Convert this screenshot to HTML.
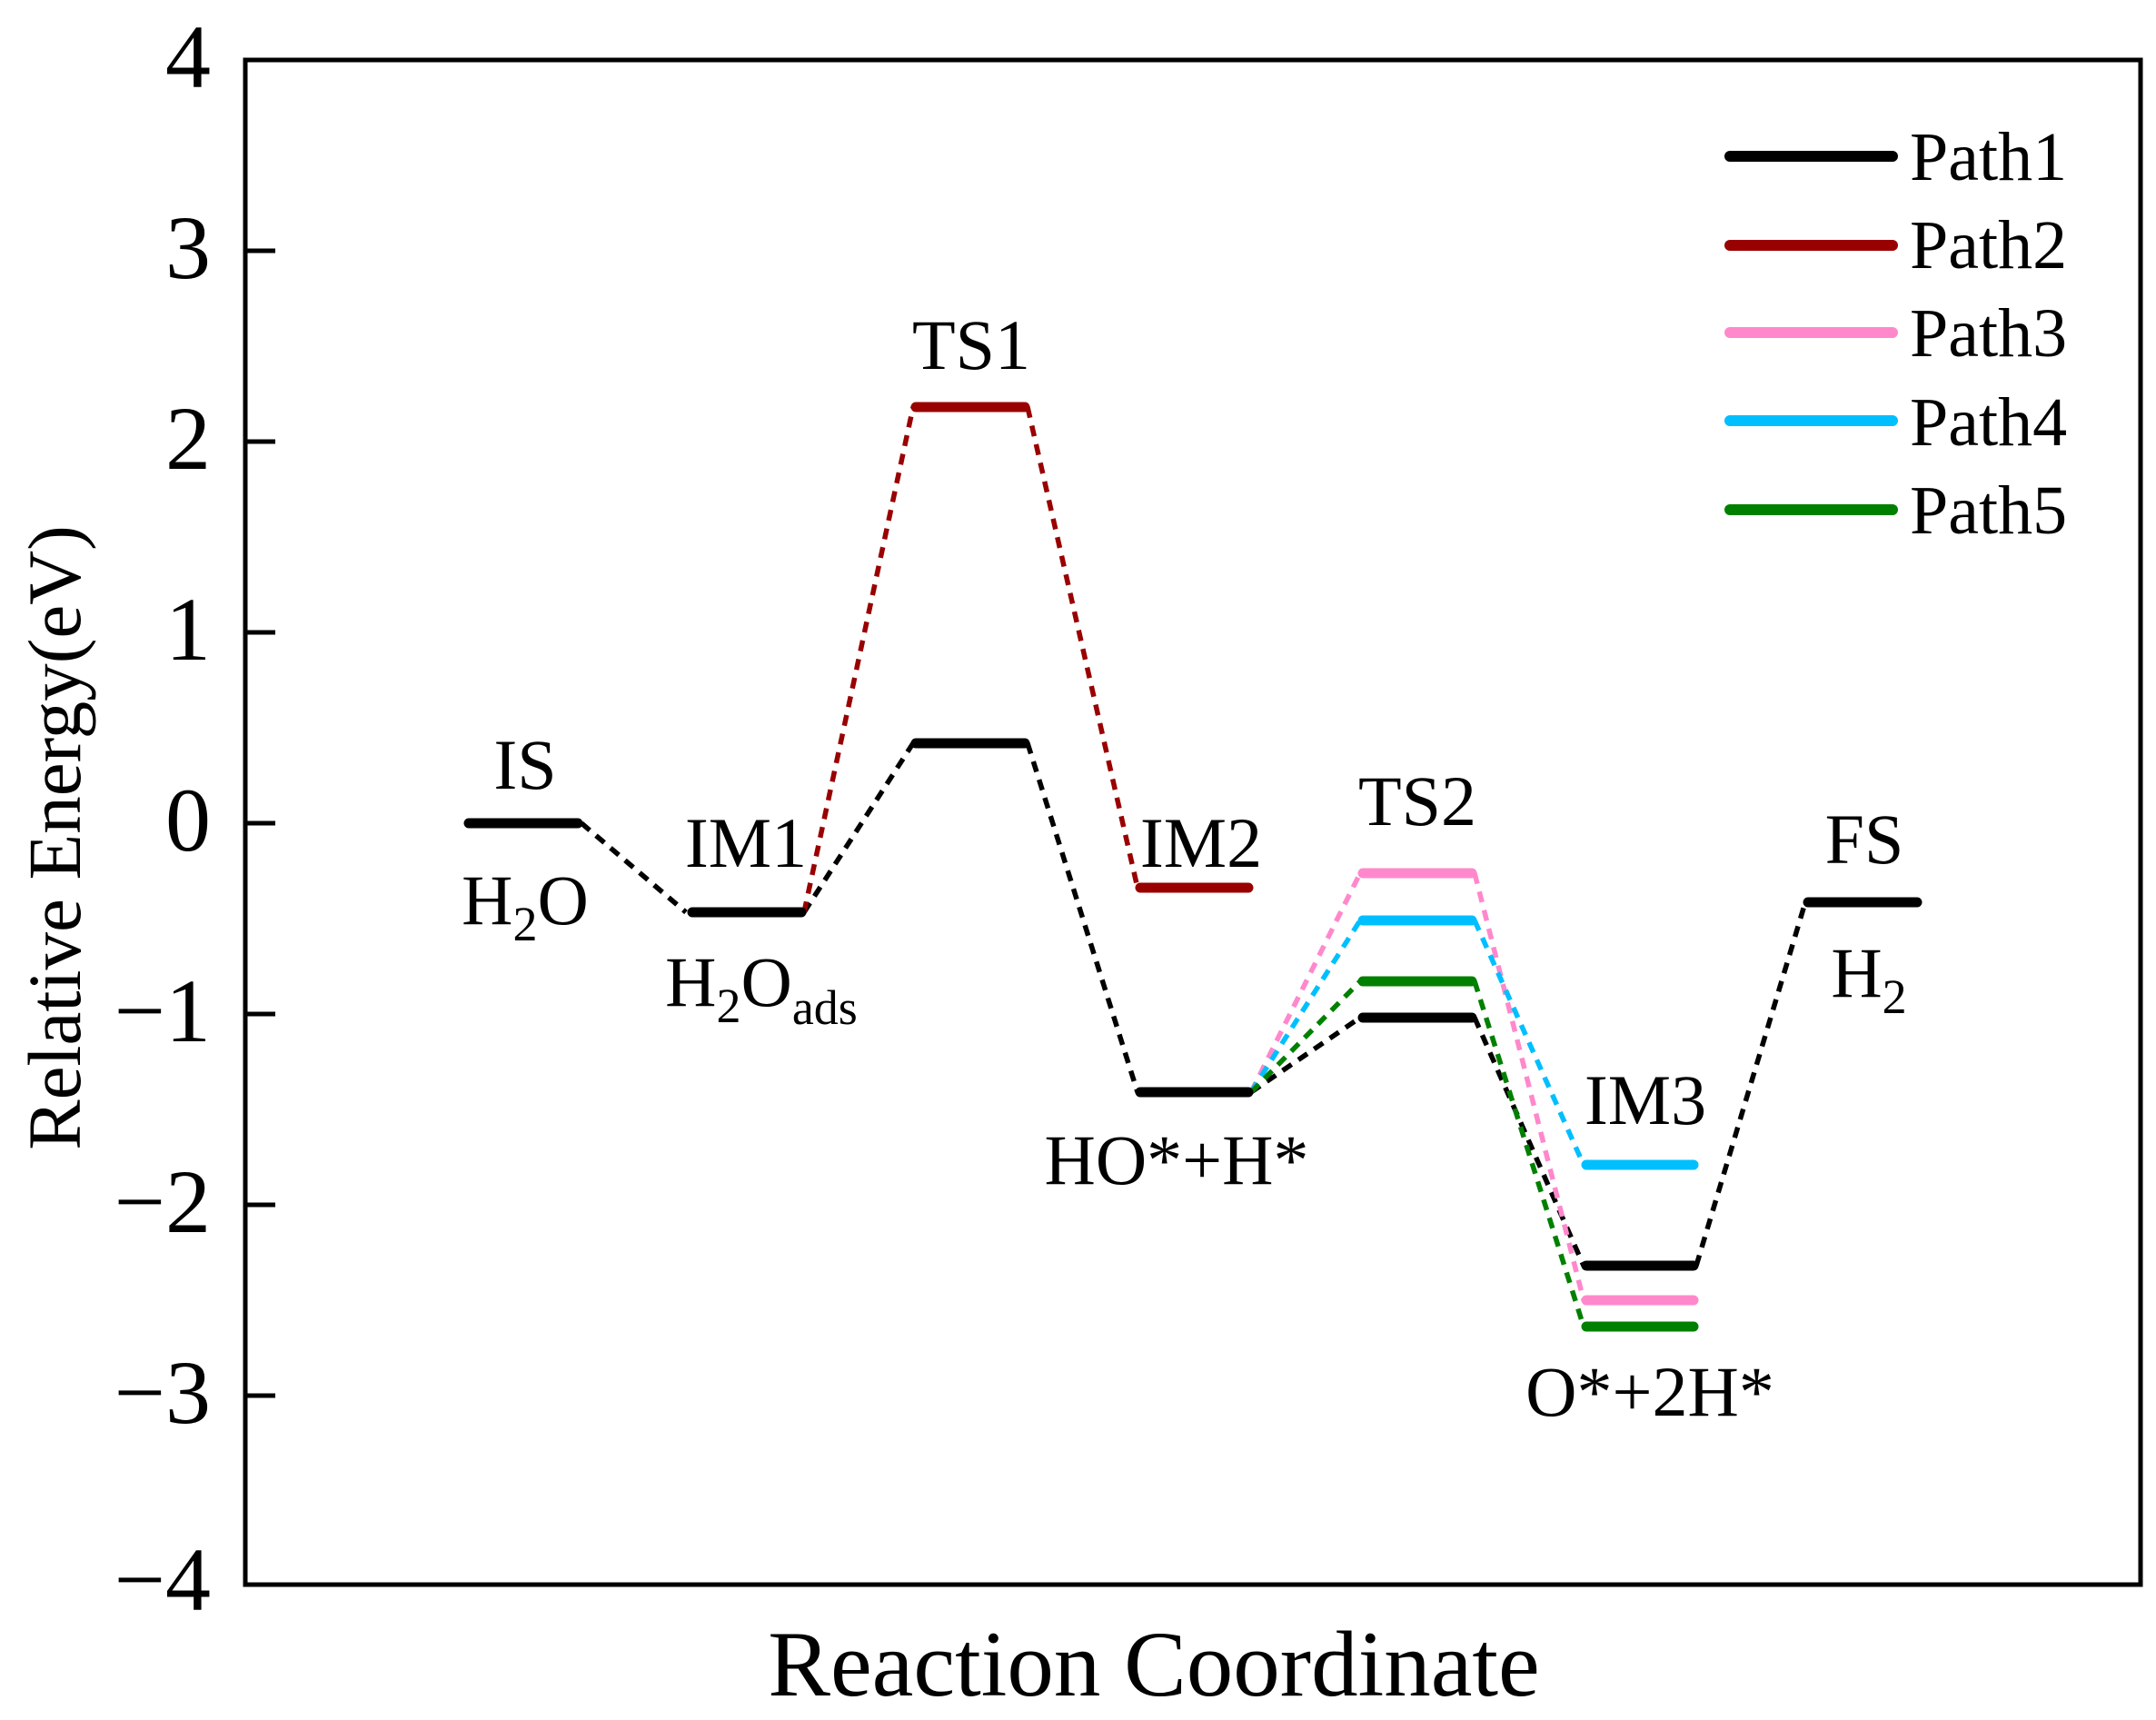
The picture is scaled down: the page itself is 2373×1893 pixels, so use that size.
<!DOCTYPE html>
<html><head><meta charset="utf-8"><style>
html,body{margin:0;padding:0;background:#fff;}
svg{display:block;}
text{font-family:"Liberation Serif","Times New Roman",serif;fill:#000;}
</style></head><body>
<svg width="2373" height="1893" viewBox="0 0 2373 1893" xmlns="http://www.w3.org/2000/svg" font-family="Liberation Serif, serif">
<rect width="2373" height="1893" fill="#fff"/>
<rect x="270" y="66" width="2086" height="1678" fill="none" stroke="#000" stroke-width="5"/>
<g stroke="#000" stroke-width="5">
<line x1="270" y1="276" x2="303" y2="276"/>
<line x1="270" y1="486" x2="303" y2="486"/>
<line x1="270" y1="696" x2="303" y2="696"/>
<line x1="270" y1="906" x2="303" y2="906"/>
<line x1="270" y1="1116" x2="303" y2="1116"/>
<line x1="270" y1="1326" x2="303" y2="1326"/>
<line x1="270" y1="1536" x2="303" y2="1536"/>
</g>
<g font-size="100" text-anchor="end">
<text x="232" y="96">4</text>
<text x="232" y="306">3</text>
<text x="232" y="516">2</text>
<text x="232" y="726">1</text>
<text x="232" y="936">0</text>
<text x="232" y="1146">−1</text>
<text x="232" y="1356">−2</text>
<text x="232" y="1566">−3</text>
<text x="232" y="1772">−4</text>
</g>
<text x="1270" y="1866" font-size="103" text-anchor="middle">Reaction Coordinate</text>
<text transform="translate(88,922) rotate(-90)" font-size="83" text-anchor="middle">Relative Energy(eV)</text>

<g fill="none" stroke-width="5.5" stroke-dasharray="12 9">
<polyline stroke="#000" points="640,906 755,1004"/>
<polyline stroke="#000" points="885,1004 1005,818"/>
<polyline stroke="#000" points="1131,818 1252,1202"/>
<polyline stroke="#000" points="1377,1202 1497,1120"/>
<polyline stroke="#000" points="1623,1120 1743,1393"/>
<polyline stroke="#000" points="1867,1393 1987,993"/>
<polyline stroke="#990000" points="885,1004 1005,448"/>
<polyline stroke="#990000" points="1131,448 1252,977"/>
<polyline stroke="#FF88CC" points="1377,1202 1497,961"/>
<polyline stroke="#FF88CC" points="1623,961 1743,1431"/>
<polyline stroke="#00BFFF" points="1377,1202 1497,1013"/>
<polyline stroke="#00BFFF" points="1623,1013 1743,1282"/>
<polyline stroke="#008000" points="1377,1202 1497,1080"/>
<polyline stroke="#008000" points="1623,1080 1743,1460"/>
</g>

<g stroke-width="11" stroke-linecap="round">
<line stroke="#000" x1="516" y1="906" x2="636" y2="906"/>
<line stroke="#000" x1="762" y1="1004" x2="882" y2="1004"/>
<line stroke="#990000" x1="1008" y1="448" x2="1128" y2="448"/>
<line stroke="#000" x1="1008" y1="818" x2="1128" y2="818"/>
<line stroke="#990000" x1="1255" y1="977" x2="1374" y2="977"/>
<line stroke="#000" x1="1255" y1="1202" x2="1374" y2="1202"/>
<line stroke="#FF88CC" x1="1500" y1="961" x2="1620" y2="961"/>
<line stroke="#00BFFF" x1="1500" y1="1013" x2="1620" y2="1013"/>
<line stroke="#008000" x1="1500" y1="1080" x2="1620" y2="1080"/>
<line stroke="#000" x1="1500" y1="1120" x2="1620" y2="1120"/>
<line stroke="#00BFFF" x1="1746" y1="1282" x2="1864" y2="1282"/>
<line stroke="#000" x1="1746" y1="1393" x2="1864" y2="1393"/>
<line stroke="#FF88CC" x1="1746" y1="1431" x2="1864" y2="1431"/>
<line stroke="#008000" x1="1746" y1="1460" x2="1864" y2="1460"/>
<line stroke="#000" x1="1990" y1="993" x2="2110" y2="993"/>
</g>

<g font-size="78" text-anchor="middle">
<text x="578" y="868">IS</text>
<text x="578" y="1017">H<tspan font-size="54" dy="18">2</tspan><tspan dy="-18">O</tspan></text>
<text x="821" y="954">IM1</text>
<text x="838" y="1107">H<tspan font-size="54" dy="18">2</tspan><tspan dy="-18">O</tspan><tspan font-size="54" dy="20">ads</tspan></text>
<text x="1069" y="406">TS1</text>
<text x="1322" y="954">IM2</text>
<text x="1295" y="1303">HO*+H*</text>
<text x="1560" y="908">TS2</text>
<text x="1811" y="1237">IM3</text>
<text x="1816" y="1558">O*+2H*</text>
<text x="2052" y="950">FS</text>
<text x="2057" y="1097">H<tspan font-size="54" dy="18">2</tspan></text>
</g>

<g stroke-width="12" stroke-linecap="round">
<line stroke="#000" x1="1904" y1="172" x2="2083" y2="172"/>
<line stroke="#990000" x1="1904" y1="270" x2="2083" y2="270"/>
<line stroke="#FF88CC" x1="1904" y1="366" x2="2083" y2="366"/>
<line stroke="#00BFFF" x1="1904" y1="463" x2="2083" y2="463"/>
<line stroke="#008000" x1="1904" y1="561" x2="2083" y2="561"/>
</g>
<g font-size="76">
<text x="2102" y="198">Path1</text>
<text x="2102" y="295">Path2</text>
<text x="2102" y="392">Path3</text>
<text x="2102" y="490">Path4</text>
<text x="2102" y="587">Path5</text>
</g>
</svg>
</body></html>
